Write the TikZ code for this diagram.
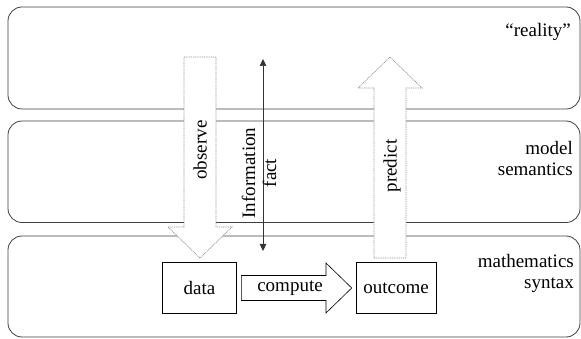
\documentclass[tikz,border=0pt]{standalone}
\usepackage{fontspec}
\setmainfont{Liberation Serif}
\usetikzlibrary{arrows.meta,calc}
\begin{document}
\begin{tikzpicture}[x=1pt,y=-1pt,
  every node/.style={font=\fontsize{19}{21}\selectfont},
  band/.style={draw=black!75,line width=0.8pt,rounded corners=14pt,minimum width=572pt,inner sep=0pt},
  bigarrow/.style={draw=gray!85,fill=white,line width=0.7pt,dash pattern=on 1pt off 0.8pt},
  solidarrow/.style={draw=black,fill=white,line width=0.6pt},
  box/.style={draw=black,line width=0.6pt,minimum width=74pt,minimum height=50.5pt,inner sep=0pt},
  lbl/.style={inner sep=0pt,align=right,anchor=north east}]
\useasboundingbox (0,0) rectangle (581,339);
% bands
\node[band,minimum height=102pt] (realityband) at (294,58) {};
\node[band,minimum height=101.5pt] (modelband) at (294,171.75) {};
\node[band,minimum height=101pt] (mathband) at (294,286.5) {};
% labels
\node[inner sep=0pt,anchor=base east] (reality) at (571,37) {“reality”};
\node[lbl] (modellbl) at (573,141) {model\\semantics};
\node[lbl] (mathlbl) at (574,254.5) {mathematics\\syntax};
% thin double arrow
\coordinate (infotop) at (263,59);
\coordinate (infobot) at (263,251);
\draw[line width=0.5pt,black!80,{Triangle[length=7pt,width=6.5pt]}-{Triangle[length=7pt,width=6.5pt]}] (infotop) -- (infobot);
% observe arrow
\draw[bigarrow] (184,57) -- (216,57) -- (216,227) -- (232,227) -- (200,258) -- (168,227) -- (184,227) -- cycle;
% predict arrow
\draw[bigarrow] (374,258) -- (406,258) -- (406,88) -- (422,88) -- (390,57) -- (358,88) -- (374,88) -- cycle;
% boxes
\node[box] (data) at (199.5,288) {data};
\node[box,minimum width=80pt] (outcome) at (396,288) {outcome};
% compute arrow
\draw[solidarrow] ($(data.east)+(4.5,-12.5)$) -- (326,275.5) -- (326,263) -- ($(outcome.west)+(-4,0)$) -- (326,313) -- (326,300.5) -- ($(data.east)+(4.5,12.5)$) -- cycle;
\node[inner sep=0pt] (compute) at (290,288) {compute};
% rotated labels
\node[rotate=90,inner sep=0pt] (observe) at (200,150) {observe};
\node[rotate=90,inner sep=0pt,align=center] (info) at (259,173) {Information\\fact};
\node[rotate=90,inner sep=0pt] (predict) at (392,166) {predict};
\end{tikzpicture}
\end{document}
